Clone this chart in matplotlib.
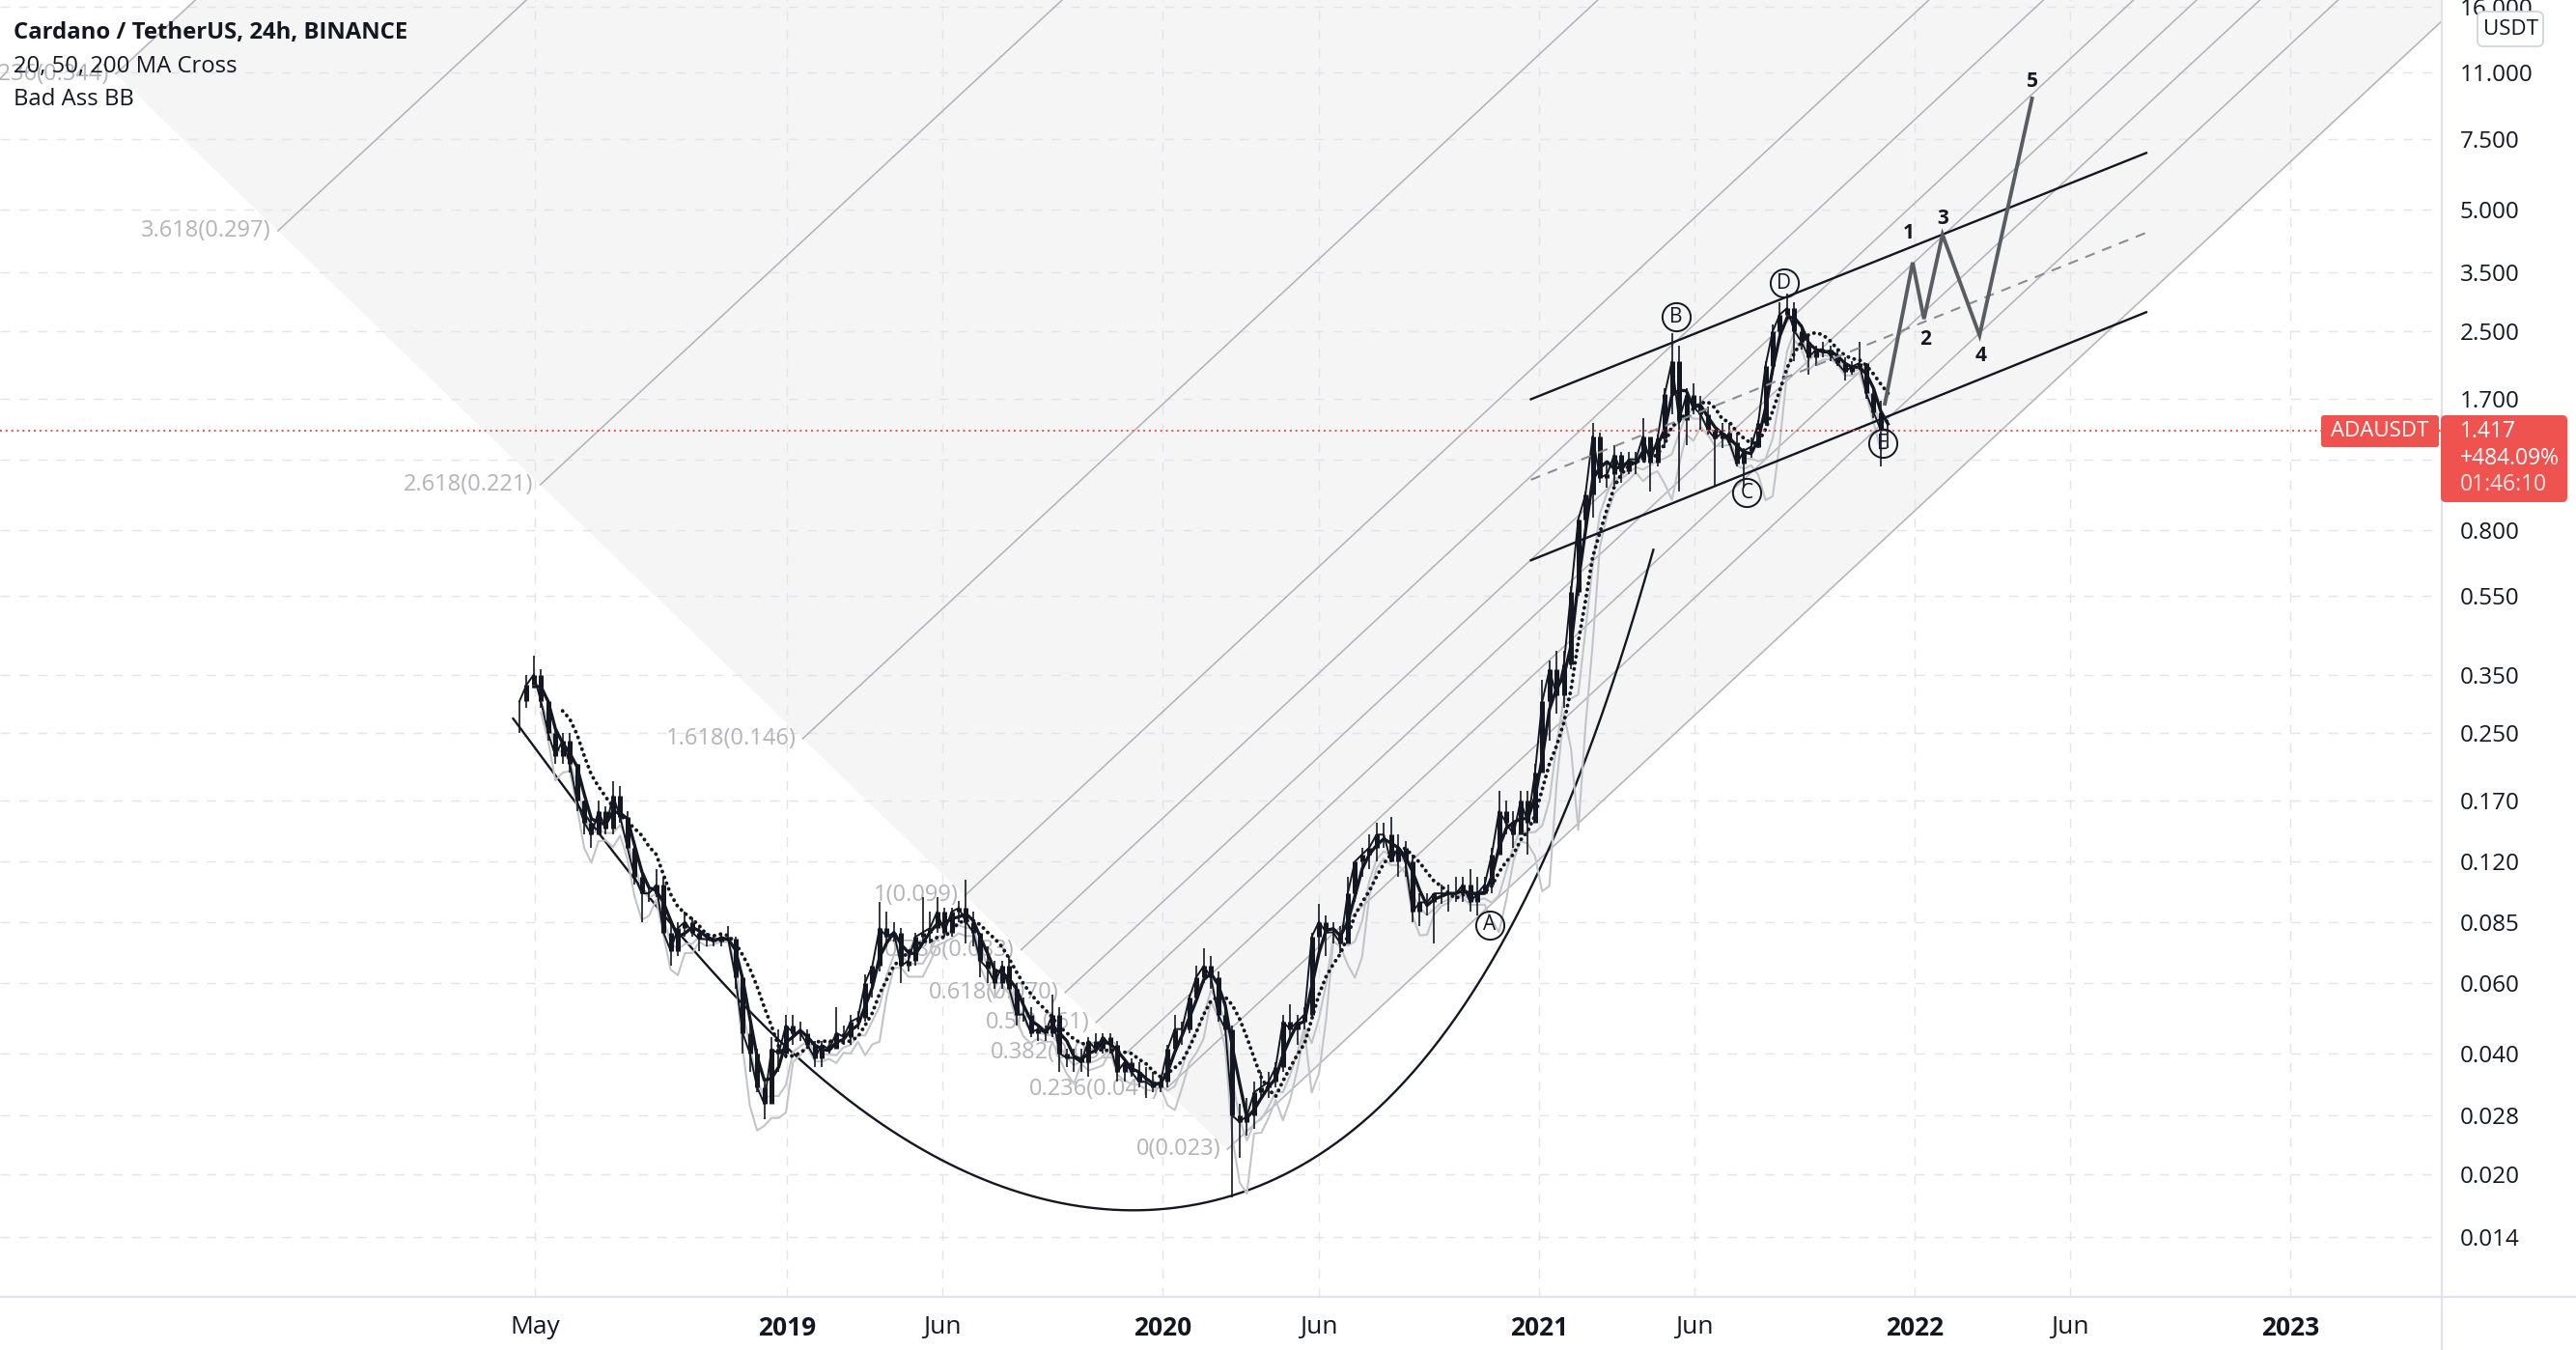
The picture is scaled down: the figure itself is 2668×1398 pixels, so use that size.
import numpy as np
import pandas as pd
import matplotlib
matplotlib.use("Agg")
import matplotlib.pyplot as plt
import matplotlib.dates as mdates
from matplotlib.ticker import FixedLocator, FuncFormatter, NullLocator
from matplotlib.patches import FancyBboxPatch
from matplotlib.transforms import IdentityTransform
from matplotlib.lines import Line2D

plt.rcParams['font.family'] = ['Open Sans', 'DejaVu Sans']

# ---------------- weekly price data ----------------
WEEK_START = "2018-04-16"

HIGH_2018 = [0.30,0.35,0.39,0.36,0.30,0.26,0.25,0.25,0.21,0.17,0.155,0.17,0.165,0.19,0.185,0.16,0.135,0.115,0.105,0.115,
             0.11,0.085,0.085,0.09,0.087,0.083,0.08,0.079,0.08,0.083,0.078,0.063,0.048,0.041,0.034,0.044,0.046,0.050]
LOW_2018 = [0.25,0.29,0.33,0.29,0.24,0.21,0.21,0.20,0.16,0.14,0.13,0.14,0.14,0.14,0.15,0.13,0.105,0.085,0.095,0.098,
            0.08,0.066,0.07,0.078,0.078,0.072,0.074,0.074,0.074,0.076,0.058,0.040,0.036,0.032,0.0275,0.030,0.036,0.039]
CLOSE_2018 = [0.30,0.33,0.35,0.30,0.25,0.22,0.24,0.21,0.17,0.15,0.14,0.16,0.145,0.175,0.155,0.13,0.11,0.10,0.10,0.105,
              0.08,0.072,0.082,0.085,0.08,0.077,0.077,0.076,0.078,0.077,0.062,0.045,0.040,0.033,0.030,0.041,0.040,0.047]

HIGH_2019 = [0.050,0.048,0.046,0.043,0.043,0.043,0.052,0.047,0.050,0.051,0.063,0.066,0.095,0.090,0.085,0.082,0.072,0.080,0.098,0.090,
             0.098,0.092,0.092,0.096,0.108,0.090,0.080,0.074,0.068,0.068,0.070,0.060,0.055,0.052,0.047,0.047,0.056,0.052,0.041,0.041,
             0.041,0.044,0.045,0.045,0.045,0.043,0.039,0.039,0.038,0.037,0.036,0.035]
LOW_2019 = [0.042,0.043,0.041,0.037,0.037,0.040,0.041,0.042,0.042,0.046,0.048,0.055,0.064,0.074,0.076,0.060,0.064,0.066,0.075,0.075,
            0.080,0.078,0.078,0.085,0.075,0.074,0.062,0.060,0.058,0.058,0.058,0.047,0.048,0.044,0.043,0.043,0.044,0.036,0.037,0.036,
            0.036,0.035,0.040,0.040,0.040,0.034,0.034,0.035,0.033,0.031,0.032,0.032]
CLOSE_2019 = [0.045,0.045,0.042,0.039,0.042,0.041,0.045,0.044,0.048,0.049,0.060,0.066,0.082,0.078,0.080,0.066,0.068,0.078,0.080,0.082,
              0.090,0.080,0.090,0.092,0.085,0.080,0.068,0.065,0.060,0.066,0.058,0.050,0.050,0.045,0.046,0.045,0.050,0.040,0.039,0.039,
              0.038,0.043,0.041,0.044,0.042,0.036,0.038,0.036,0.034,0.034,0.033,0.034]

HIGH_2020 = [0.042,0.050,0.048,0.056,0.066,0.073,0.070,0.064,0.054,0.047,0.030,0.031,0.034,0.036,0.036,0.038,0.050,0.053,0.050,0.052,
             0.080,0.094,0.088,0.085,0.083,0.110,0.120,0.130,0.140,0.150,0.150,0.155,0.140,0.135,0.125,0.100,0.100,0.097,0.105,0.105,
             0.110,0.110,0.115,0.110,0.110,0.130,0.180,0.170,0.160,0.180,0.180,0.210]
LOW_2020 = [0.033,0.040,0.042,0.045,0.054,0.060,0.058,0.048,0.046,0.0175,0.022,0.025,0.026,0.031,0.031,0.033,0.036,0.044,0.042,0.046,
            0.049,0.070,0.070,0.075,0.071,0.075,0.095,0.110,0.115,0.120,0.130,0.120,0.110,0.110,0.085,0.083,0.088,0.075,0.094,0.090,
            0.095,0.095,0.090,0.088,0.100,0.100,0.125,0.140,0.130,0.140,0.125,0.160]
CLOSE_2020 = [0.041,0.046,0.046,0.055,0.062,0.066,0.062,0.050,0.046,0.028,0.027,0.028,0.032,0.033,0.034,0.037,0.048,0.046,0.048,0.050,
              0.078,0.085,0.080,0.080,0.075,0.100,0.120,0.125,0.130,0.140,0.140,0.120,0.130,0.120,0.090,0.095,0.095,0.100,0.100,0.100,
              0.100,0.105,0.095,0.100,0.105,0.125,0.160,0.150,0.140,0.170,0.150,0.200]

HIGH_2021 = [0.34,0.38,0.40,0.40,0.58,0.85,1.00,1.48,1.40,1.18,1.30,1.25,1.25,1.25,1.52,1.36,1.38,1.80,2.47,2.30,
             1.80,1.85,1.72,1.62,1.42,1.48,1.48,1.40,1.28,1.36,1.50,2.10,2.60,2.95,3.10,2.95,2.60,2.45,2.30,2.35,
             2.30,2.25,2.15,2.10,2.35,2.08,1.80,1.68,1.50]
LOW_2021 = [0.20,0.24,0.28,0.29,0.36,0.55,0.78,0.86,1.05,1.02,1.03,1.05,1.10,1.10,1.20,1.00,1.15,1.28,1.55,1.00,
            1.30,1.55,1.42,1.38,1.03,1.28,1.30,1.15,1.02,1.21,1.28,1.45,1.95,2.45,2.70,2.10,2.25,1.95,2.05,2.15,
            2.10,2.05,1.88,1.95,2.00,1.70,1.52,1.15,1.28]
CLOSE_2021 = [0.30,0.36,0.31,0.37,0.56,0.85,0.98,1.37,1.08,1.10,1.23,1.12,1.20,1.20,1.37,1.18,1.35,1.74,2.10,1.50,
              1.73,1.62,1.55,1.42,1.35,1.40,1.32,1.17,1.26,1.29,1.48,2.05,2.50,2.75,2.85,2.50,2.35,2.15,2.25,2.25,
              2.18,2.08,1.98,2.04,2.08,1.75,1.57,1.42,1.417]

HIGH = HIGH_2018 + HIGH_2019 + HIGH_2020 + HIGH_2021
LOW = LOW_2018 + LOW_2019 + LOW_2020 + LOW_2021
CLOSE = CLOSE_2018 + CLOSE_2019 + CLOSE_2020 + CLOSE_2021

LAST_PRICE = 1.417
CHANGE_TEXT = "+484.09%"
COUNTDOWN_TEXT = "01:46:10"
SYMBOL = "ADAUSDT"
CURRENCY = "USDT"
LEGEND_LINES = ["Cardano / TetherUS, 24h, BINANCE", "20, 50, 200 MA Cross", "Bad Ass BB"]

# axis ticks (1.2 grid line exists but its label sits under the price tag)
Y_TICKS = [16, 11, 7.5, 5, 3.5, 2.5, 1.7, 1.2, 0.8, 0.55, 0.35, 0.25, 0.17, 0.12, 0.085, 0.06, 0.04, 0.028, 0.02, 0.014]
Y_HIDDEN_LABELS = [1.2]
X_TICK_DATES = ["2018-05-01", "2019-01-01", "2019-06-01", "2020-01-01", "2020-06-01",
                "2021-01-01", "2021-06-01", "2022-01-01", "2022-06-01", "2023-01-01"]
X_TICK_LABELS = ["May", "2019", "Jun", "2020", "Jun", "2021", "Jun", "2022", "Jun", "2023"]
X_TICK_BOLD = [False, True, False, True, False, True, False, True, False, True]

# Fibonacci channel (anchor points: date, price)
FIB_LEVELS = [0, 0.236, 0.382, 0.5, 0.618, 0.786, 1, 1.618, 2.618, 3.618, 4.236]
FIB_P1 = ("2020-03-04", 0.0231)
FIB_P2 = ("2023-05-01", 12.7)
FIB_P3 = ("2019-06-23", 0.0988)

# big curve drawing (anchor points)
CURVE_DATES = ["2018-04-10", "2018-09-15", "2019-03-21", "2019-07-03", "2019-12-28", "2020-03-21", "2020-06-02",
               "2020-08-02", "2020-09-25", "2020-11-04", "2020-12-21", "2021-03-10", "2021-04-22"]
CURVE_PRICES = [0.271, 0.0825, 0.0278, 0.0196, 0.0166, 0.0188, 0.0228, 0.0292, 0.0409, 0.057, 0.109, 0.323, 0.693]

# parallel channel
CHANNEL_DATES = ["2020-12-24", "2022-08-14"]
CHANNEL_UPPER = [1.692, 6.93]
CHANNEL_MID = [1.067, 4.39]
CHANNEL_LOWER = [0.673, 2.785]

# projected wave
WAVE_DATES = ["2021-12-03", "2021-12-30", "2022-01-10", "2022-01-28", "2022-03-05", "2022-04-25"]
WAVE_PRICES = [1.65, 3.70, 2.68, 4.34, 2.44, 9.46]
WAVE_LABELS = ["1", "2", "3", "4", "5"]

# circled labels
CIRCLE_LABELS = ["A", "B", "C", "D", "E"]
CIRCLE_DATES = ["2020-11-14", "2021-05-14", "2021-07-22", "2021-08-27", "2021-12-01"]
CIRCLE_PRICES = [0.0834, 2.71, 0.992, 3.29, 1.315]

# ---------------- figure ----------------
W, H = 2668, 1398
fig = plt.figure(figsize=(W / 100, H / 100), dpi=100)
fig.patch.set_facecolor("white")
ax = fig.add_axes([0, 55 / H, 2529 / W, 1343 / H])
ax.set_facecolor("white")
ax.set_yscale("log")

def dn(s):
    return mdates.date2num(pd.Timestamp(s))

ref = dn("2019-01-01")
px_per_day = 1.0658
ax.set_xlim(ref - 815 / px_per_day, ref + 1714 / px_per_day)
ax.set_ylim(0.00993, 16.63)

INK = "#131722"

# grid
ax.set_axisbelow(True)
ax.grid(True, which="major", color="#e4e4e8", lw=1.0, ls=(0, (7, 7)))

# ---- fib channel ----
p1 = np.array([dn(FIB_P1[0]), np.log10(FIB_P1[1])])
p2 = np.array([dn(FIB_P2[0]), np.log10(FIB_P2[1])])
p3 = np.array([dn(FIB_P3[0]), np.log10(FIB_P3[1])])
dvec = p2 - p1
ovec = p3 - p1
top = p1 + FIB_LEVELS[-1] * ovec
poly = np.array([p1, top, top + 3 * dvec, p1 + 3 * dvec])
ax.fill(poly[:, 0], 10 ** poly[:, 1], color="#f5f5f6", lw=0, zorder=0.3)
for L in FIB_LEVELS:
    s = p1 + L * ovec
    e = s + 3 * dvec
    ax.plot([s[0], e[0]], [10 ** s[1], 10 ** e[1]], color="#b4b4b9", lw=1.15, zorder=1)
    price = FIB_P1[1] + L * (FIB_P3[1] - FIB_P1[1])
    ax.annotate(f"{L:g}({price:.3f})", xy=(s[0], 10 ** s[1]), xytext=(-5, 0),
                textcoords="offset points", ha="right", va="center", fontsize=17,
                color="#b4b4b8", zorder=1.1, annotation_clip=False)

# ---- big curve ----
cu = np.array([dn(d) for d in CURVE_DATES])
cv = np.log10(CURVE_PRICES)
u0, u1 = cu[0], cu[-1]
coef = np.polyfit((cu - u0) / (u1 - u0), cv, 5)
uu = np.linspace(0, 1, 400)
ax.plot(u0 + uu * (u1 - u0), 10 ** np.polyval(coef, uu), color=INK, lw=1.7, zorder=3)

# ---- price series ----
dates = pd.date_range(WEEK_START, periods=len(CLOSE), freq="7D")
xd = mdates.date2num(dates)
close = np.array(CLOSE)
opens = np.concatenate([[CLOSE[0]], close[:-1]])
sc = pd.Series(close)
ma20 = sc.rolling(3).mean()
ma50 = sc.rolling(7).mean()
basis = sc.rolling(4).mean()
sd = sc.rolling(4).std(ddof=0)
bb1 = (basis - 1.0 * sd).where(lambda v: v > 0)
bb2 = (basis - 1.8 * sd).where(lambda v: v > 0)
ax.plot(xd, bb1, color="#c3c4ca", lw=1.5, zorder=3.5)
ax.plot(xd, bb2, color="#c3c4ca", lw=1.5, zorder=3.5)

ax.vlines(xd, LOW, HIGH, color=INK, lw=1.2, zorder=4)
ax.vlines(xd, np.minimum(opens, close), np.maximum(opens, close), color=INK, lw=3.6, zorder=4)
ax.plot(xd, close, color=INK, lw=1.4, zorder=4)

ax.plot(xd, ma20, color=INK, lw=2.4, zorder=5, solid_joinstyle="round")
ax.plot(xd, ma50, color=INK, lw=2.8, ls=(0, (0.05, 1.6)), dash_capstyle="round", zorder=5)

# ---- channel ----
cd = [dn(d) for d in CHANNEL_DATES]
ax.plot(cd, CHANNEL_UPPER, color=INK, lw=1.7, zorder=6)
ax.plot(cd, CHANNEL_LOWER, color=INK, lw=1.7, zorder=6)
ax.plot(cd, CHANNEL_MID, color="#8a8d96", lw=1.5, ls=(0, (5, 4)), zorder=6)

# ---- last price line ----
ax.axhline(LAST_PRICE, color="#ef5350", lw=1.4, ls=(0, (1, 2)), zorder=6.5)

# ---- wave projection ----
wd = [dn(d) for d in WAVE_DATES]
ax.plot(wd, WAVE_PRICES, color="#5a5c63", lw=2.8, zorder=7, solid_joinstyle="miter")
wave_offsets = [(-3, 22), (1, -15), (0, 12), (1, -15), (0, 13)]
for lab, d, p, off in zip(WAVE_LABELS, wd[1:], WAVE_PRICES[1:], wave_offsets):
    ax.annotate(lab, xy=(d, p), xytext=off, textcoords="offset points", ha="center", va="center",
                fontsize=15, fontweight="bold", color=INK, zorder=8)

# ---- circled letters ----
for lab, d, p in zip(CIRCLE_LABELS, CIRCLE_DATES, CIRCLE_PRICES):
    ax.plot([dn(d)], [p], "o", ms=21, mfc="none", mec=INK, mew=1.4, zorder=8)
    ax.text(dn(d), p, lab, ha="center", va="center", fontsize=15, color=INK, zorder=8)

# ---- axes formatting ----
for sp in ax.spines.values():
    sp.set_visible(False)
ax.yaxis.set_major_locator(FixedLocator(Y_TICKS))
ax.yaxis.set_minor_locator(NullLocator())
ax.yaxis.set_major_formatter(FuncFormatter(
    lambda v, pos: "" if any(abs(v - h) < 1e-9 for h in Y_HIDDEN_LABELS) else f"{v:.3f}"))
ax.yaxis.tick_right()
ax.tick_params(axis="y", which="both", length=0, pad=13.5, labelsize=17.5, labelcolor=INK)

ax.xaxis.set_major_locator(FixedLocator([dn(d) for d in X_TICK_DATES]))
ax.xaxis.set_minor_locator(NullLocator())
ax.set_xticklabels(X_TICK_LABELS)
ax.tick_params(axis="x", which="both", length=0, pad=14, labelsize=19, labelcolor=INK)
for lbl, b in zip(ax.get_xticklabels(), X_TICK_BOLD):
    lbl.set_fontweight("bold" if b else "normal")
    lbl.set_family(["Liberation Sans Narrow", "Open Sans", "DejaVu Sans"])

# ---- frame lines ----
def fx(px):
    return px / W

def fy(py):
    return 1 - py / H

fig.add_artist(Line2D([fx(2529), fx(2529)], [0, 1], transform=fig.transFigure, color="#e0e3eb", lw=1.6))
fig.add_artist(Line2D([0, 1], [fy(1343), fy(1343)], transform=fig.transFigure, color="#e0e3eb", lw=1.6))

# ---- legend ----
fig.text(fx(14), fy(34), LEGEND_LINES[0], fontsize=17.2, fontweight="bold", color=INK, va="center", ha="left")
fig.text(fx(14), fy(69), LEGEND_LINES[1], fontsize=17.2, color=INK, va="center", ha="left")
fig.text(fx(14), fy(103), LEGEND_LINES[2], fontsize=17.2, color=INK, va="center", ha="left")

# ---- price labels ----
RED = "#ef5350"
fig.add_artist(FancyBboxPatch((2528, H - 520), 131, 90, boxstyle="round,pad=0,rounding_size=5",
                              transform=IdentityTransform(), facecolor=RED, edgecolor="none", zorder=5))
fig.add_artist(FancyBboxPatch((2404, H - 463), 122, 33, boxstyle="round,pad=0,rounding_size=3",
                              transform=IdentityTransform(), facecolor=RED, edgecolor="none", zorder=5))
fig.text(fx(2465), fy(447), SYMBOL, fontsize=16, color="white", ha="center", va="center", zorder=6)
fig.text(fx(2548), fy(447), f"{LAST_PRICE:.3f}", fontsize=16.5, color="white", ha="left", va="center", zorder=6)
fig.text(fx(2548), fy(475), CHANGE_TEXT, fontsize=16.5, color="white", ha="left", va="center", zorder=6)
fig.text(fx(2548), fy(502), COUNTDOWN_TEXT, fontsize=16.5, color="#fde2e2", ha="left", va="center", zorder=6)

fig.add_artist(FancyBboxPatch((2566, H - 48), 68, 36, boxstyle="round,pad=0,rounding_size=6",
                              transform=IdentityTransform(), facecolor="white", edgecolor="#d1d4dc", lw=1.3, zorder=5))
fig.text(fx(2600), fy(30), CURRENCY, fontsize=16, color=INK, ha="center", va="center", zorder=6)

fig.savefig("out.png", dpi=100, facecolor="white")
